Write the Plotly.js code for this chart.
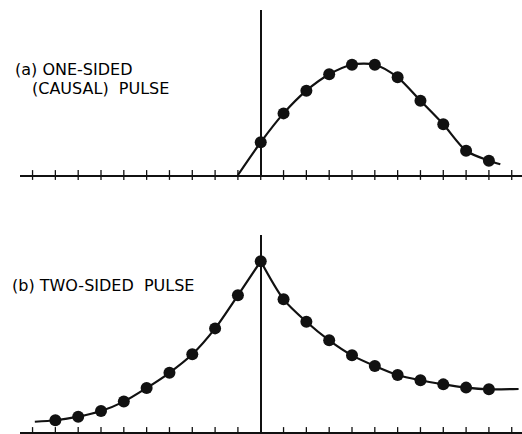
<!DOCTYPE html>
<html>
<head>
<meta charset="utf-8">
<script src="https://cdn.plot.ly/plotly-3.0.1.min.js"></script>
<style>
  html, body { margin: 0; padding: 0; background: #fff; }
  #chart { width: 522px; height: 434px; }
</style>
</head>
<body>
<div id="chart"></div>
<script>
// Sample index n and pulse amplitudes (peak of the two-sided pulse = 1)
const nOneSided = [0, 1, 2, 3, 4, 5, 6, 7, 8, 9, 10];
const oneSided = [0.192, 0.361, 0.494, 0.590, 0.646, 0.646, 0.572, 0.435, 0.297, 0.142, 0.084];
// continuous envelope endpoints of the one-sided pulse
const oneSidedStart = [-1, 0];
const oneSidedEnd = [10.5, 0.063];

const nTwoSided = [-9, -8, -7, -6, -5, -4, -3, -2, -1, 0, 1, 2, 3, 4, 5, 6, 7, 8, 9, 10];
const twoSided = [0.069, 0.090, 0.123, 0.178, 0.258, 0.347, 0.455, 0.607, 0.801, 1.0,
                  0.777, 0.646, 0.537, 0.449, 0.387, 0.334, 0.303, 0.279, 0.260, 0.250];
const twoSidedStart = [-9.9, 0.060];
const twoSidedEnd = [11.3, 0.252];

const tickPositions = [-10, -9, -8, -7, -6, -5, -4, -3, -2, -1, 0, 1, 2, 3, 4, 5, 6, 7, 8, 9, 10, 11];

const ink = '#111';

// envelope of the one-sided pulse
const curveOneX = [oneSidedStart[0], ...nOneSided, oneSidedEnd[0]];
const curveOneY = [oneSidedStart[1], ...oneSided, oneSidedEnd[1]];

// two-sided pulse envelope: two branches meeting in a cusp at n = 0
const iPeak = nTwoSided.indexOf(0);
const leftX = [twoSidedStart[0], ...nTwoSided.slice(0, iPeak + 1)];
const leftY = [twoSidedStart[1], ...twoSided.slice(0, iPeak + 1)];
const rightX = [...nTwoSided.slice(iPeak), twoSidedEnd[0]];
const rightY = [...twoSided.slice(iPeak), twoSidedEnd[1]];

const lineStyle = { color: ink, width: 2.2, shape: 'spline', smoothing: 0.8 };
const markerStyle = { color: ink, size: 12, line: { width: 0 } };

// tick marks crossing the n axis
function tickTrace(xa, ya) {
  return {
    x: tickPositions, y: tickPositions.map(() => 0), xaxis: xa, yaxis: ya,
    mode: 'markers', cliponaxis: false, hoverinfo: 'skip',
    marker: { symbol: 'line-ns', size: 7, line: { color: ink, width: 1.3 } }
  };
}

const traces = [
  tickTrace('x', 'y'),
  tickTrace('x2', 'y2'),
  { x: curveOneX, y: curveOneY, xaxis: 'x', yaxis: 'y', mode: 'lines', line: lineStyle, cliponaxis: false, hoverinfo: 'skip' },
  { x: nOneSided, y: oneSided, xaxis: 'x', yaxis: 'y', mode: 'markers', marker: markerStyle, cliponaxis: false },
  { x: leftX, y: leftY, xaxis: 'x2', yaxis: 'y2', mode: 'lines', line: lineStyle, cliponaxis: false, hoverinfo: 'skip' },
  { x: rightX, y: rightY, xaxis: 'x2', yaxis: 'y2', mode: 'lines', line: lineStyle, cliponaxis: false, hoverinfo: 'skip' },
  { x: nTwoSided, y: twoSided, xaxis: 'x2', yaxis: 'y2', mode: 'markers', marker: markerStyle, cliponaxis: false }
];

const xRange = [-10.55, 11.45];

// horizontal n axis with the vertical zero line at n = 0
function mainX(anchor) {
  return {
    anchor: anchor, range: xRange, showgrid: false,
    showline: true, linecolor: ink, linewidth: 1.6,
    zeroline: true, zerolinecolor: ink, zerolinewidth: 1.6,
    ticks: '', showticklabels: false
  };
}

const labelFont = { family: 'DejaVu Sans, sans-serif', size: 16, color: '#000' };

const layout = {
  width: 522, height: 434,
  margin: { l: 20, r: 0, t: 10, b: 2 },
  paper_bgcolor: '#fff', plot_bgcolor: 'rgba(0,0,0,0)',
  showlegend: false,
  font: { family: 'DejaVu Sans, sans-serif', color: ink },
  xaxis: mainX('y'),
  xaxis2: mainX('y2'),
  yaxis: { domain: [0.609, 1], range: [0, 0.9666], visible: false },
  yaxis2: { domain: [0, 0.4668], range: [0, 1.154], visible: false },
  annotations: [
    { text: '(a) ONE-SIDED', xref: 'paper', yref: 'paper', x: -0.014, y: 0.860,
      xanchor: 'left', yanchor: 'middle', showarrow: false, font: labelFont },
    { text: '(CAUSAL)&nbsp;&nbsp;PULSE', xref: 'paper', yref: 'paper', x: 0.020, y: 0.8128,
      xanchor: 'left', yanchor: 'middle', showarrow: false, font: labelFont },
    { text: '(b) TWO-SIDED&nbsp;&nbsp;PULSE', xref: 'paper', yref: 'paper', x: -0.020, y: 0.348,
      xanchor: 'left', yanchor: 'middle', showarrow: false, font: labelFont }
  ]
};

Plotly.newPlot('chart', traces, layout, { staticPlot: true, displayModeBar: false });
</script>
</body>
</html>
